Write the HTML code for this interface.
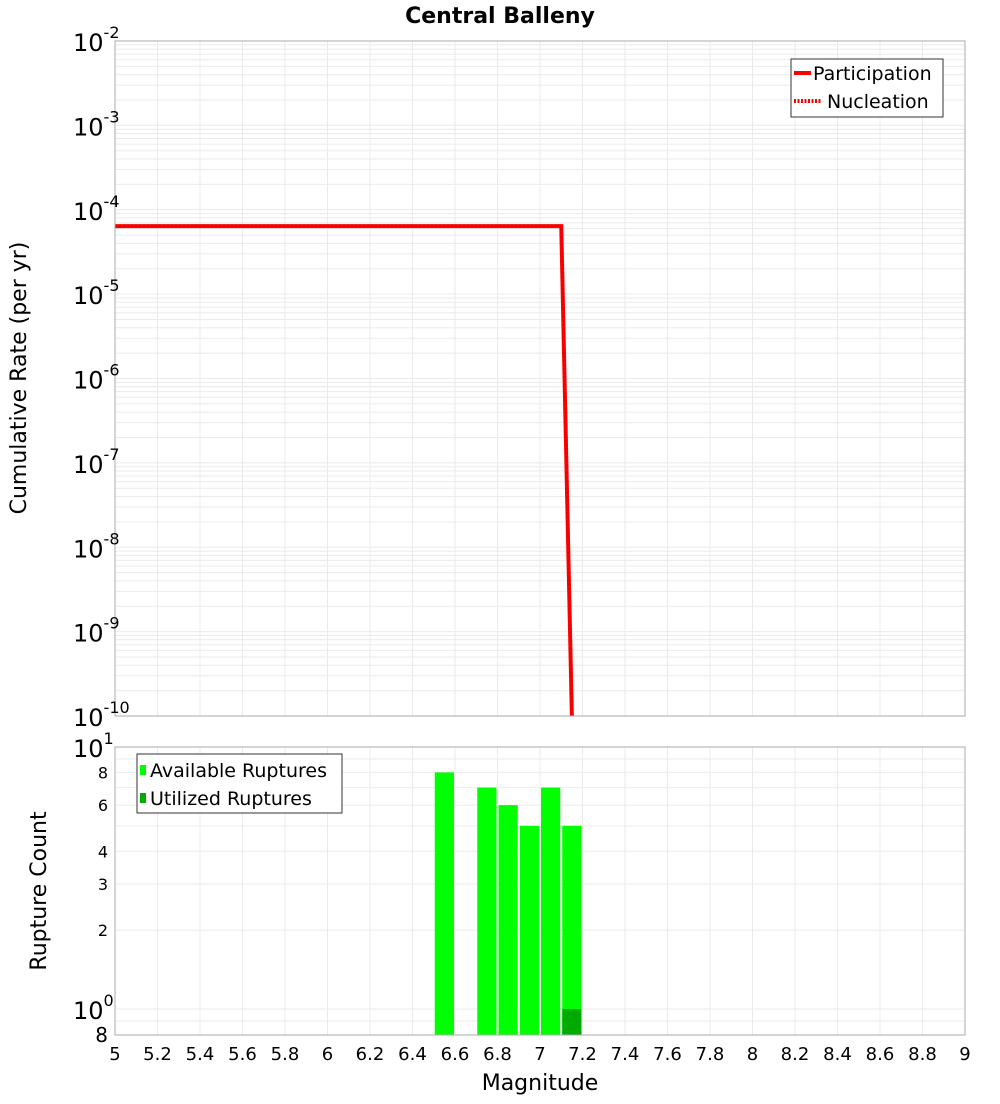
<!DOCTYPE html>
<html><head><meta charset="utf-8"><style>
body{margin:0;background:#fff;font-family:"DejaVu Sans","Liberation Sans",sans-serif}
svg text{font-family:"DejaVu Sans","Liberation Sans",sans-serif}
</style></head><body>
<svg id="c" width="1000" height="1100" xmlns="http://www.w3.org/2000/svg">
<text x="500" y="23" text-anchor="middle" font-size="22" font-weight="bold">Central Balleny</text>
<g id="top"></g>
<g id="bot"></g>
<text x="540" y="1090" text-anchor="middle" font-size="22">Magnitude</text>
<text transform="translate(26,378) rotate(-90)" text-anchor="middle" font-size="22">Cumulative Rate (per yr)</text>
<text transform="translate(46,891) rotate(-90)" text-anchor="middle" font-size="22">Rupture Count</text>
</svg>
<script>
const lineMags=[5,7.1,7.15,7.2];
const partRates=[6.4e-5,6.4e-5,1e-10,1e-12];
const nuclRates=[6.4e-5,6.4e-5,1e-10,1e-12];
const binStarts=[6.5,6.7,6.8,6.9,7.0,7.1];
const availCounts=[8,7,6,5,7,5];
const utilStarts=[7.1];
const utilCounts=[1];
const xTicks=[5,5.2,5.4,5.6,5.8,6,6.2,6.4,6.6,6.8,7,7.2,7.4,7.6,7.8,8,8.2,8.4,8.6,8.8,9];
const topExps=[-2,-3,-4,-5,-6,-7,-8,-9,-10];
const botMinorLabels=[2,3,4,6,8];

const NS="http://www.w3.org/2000/svg";
function mk(tag,attrs,parent,txt){const e=document.createElementNS(NS,tag);for(const k in attrs)e.setAttribute(k,attrs[k]);if(txt!==undefined)e.textContent=txt;parent.appendChild(e);return e;}
const L=115,R=965;
const X=m=>L+(m-5)/4*(R-L);
const T0=41,T1=716;
const YT=v=>T0+(-2-Math.log10(v))/8*(T1-T0);
const B0=747,B1=1035;
const YB=v=>B0+(1-Math.log10(v))*262;

const topG=document.getElementById('top'),botG=document.getElementById('bot'),svg=document.getElementById('c');
for(let e=-10;e<-2;e++){for(let k=1;k<10;k++){const y=YT(k*Math.pow(10,e));const g=mk('line',{x1:L,x2:R,y1:y,y2:y,stroke:'#ebebeb','stroke-width':1},topG);}}
xTicks.forEach(t=>{const g=mk('line',{x1:X(t),x2:X(t),y1:T0,y2:T1,stroke:'#ebebeb'},topG);});
const defs=mk('defs',{},svg);
const cp=mk('clipPath',{id:'cpT'},defs);mk('rect',{x:L,y:T0,width:R-L,height:T1-T0},cp);
const lg=mk('g',{'clip-path':'url(#cpT)'},topG);
const pts=a=>lineMags.map((m,i)=>X(m)+','+YT(a[i])).join(' ');
const p1=mk('polyline',{points:pts(partRates),fill:'none',stroke:'#ff0000','stroke-width':4},lg);

const p2=mk('polyline',{points:pts(nuclRates),fill:'none',stroke:'#e80000','stroke-width':2,'stroke-dasharray':'2,2'},lg);

mk('rect',{x:L,y:T0,width:R-L,height:T1-T0,fill:'none',stroke:'#aaa'},topG);
topExps.forEach(e=>{const y=YT(Math.pow(10,e));const t=mk('text',{x:73,y:y+10,'font-size':24},topG);mk('tspan',{},t,'10');mk('tspan',{dy:-13,'font-size':16},t,String(e));});
const lt=mk('g',{},topG);
mk('rect',{x:791,y:59,width:152,height:58,fill:'#fff',stroke:'#333'},lt);
mk('line',{x1:794,x2:811,y1:73,y2:73,stroke:'#f00','stroke-width':4},lt);
mk('text',{x:813,y:80,'font-size':19},lt,'Participation');
mk('line',{x1:794,x2:821,y1:101,y2:101,stroke:'#f00','stroke-width':4,'stroke-dasharray':'2,1.5'},lt);
mk('text',{x:827,y:108,'font-size':19},lt,'Nucleation');

[0.9,1,2,3,4,5,6,7,8,9].forEach(v=>{const y=YB(v);const g=mk('line',{x1:L,x2:R,y1:y,y2:y,stroke:'#ebebeb'},botG);});
xTicks.forEach(t=>{const g=mk('line',{x1:X(t),x2:X(t),y1:B0,y2:B1,stroke:'#ebebeb'},botG);});
binStarts.forEach((m,i)=>{const x0=X(m)+1,x1=X(m+0.1)-1;const r=mk('rect',{x:x0,y:YB(availCounts[i]),width:x1-x0,height:B1-YB(availCounts[i]),fill:'#00ff00'},botG);});
utilStarts.forEach((m,i)=>{const x0=X(m)+1,x1=X(m+0.1)-1;const r=mk('rect',{x:x0,y:YB(utilCounts[i]),width:x1-x0,height:B1-YB(utilCounts[i]),fill:'#00aa00'},botG);});
mk('rect',{x:L,y:B0,width:R-L,height:B1-B0,fill:'none',stroke:'#aaa'},botG);
[[10,'1'],[1,'0']].forEach(([v,e])=>{const t=mk('text',{x:73,y:YB(v)+10,'font-size':24},botG);mk('tspan',{},t,'10');mk('tspan',{dy:-13,'font-size':16},t,e);});
botMinorLabels.forEach(v=>{const t=mk('text',{x:108,y:YB(v)+6,'text-anchor':'end','font-size':16},botG,String(v));});
const t8=mk('text',{x:108,y:1042,'text-anchor':'end','font-size':20},botG,'8');
xTicks.forEach(t=>{const e=mk('text',{x:X(t),y:1060,'text-anchor':'middle','font-size':18},botG,String(t));});
const lb=mk('g',{},botG);
mk('rect',{x:137,y:754,width:205,height:59,fill:'#fff',stroke:'#333'},lb);
mk('rect',{x:140,y:765,width:6,height:10,fill:'#00ff00'},lb);
mk('text',{x:150,y:777,'font-size':19},lb,'Available Ruptures');
mk('rect',{x:140,y:793,width:6,height:10,fill:'#00aa00'},lb);
mk('text',{x:150,y:805,'font-size':19},lb,'Utilized Ruptures');
</script>
</body></html>
